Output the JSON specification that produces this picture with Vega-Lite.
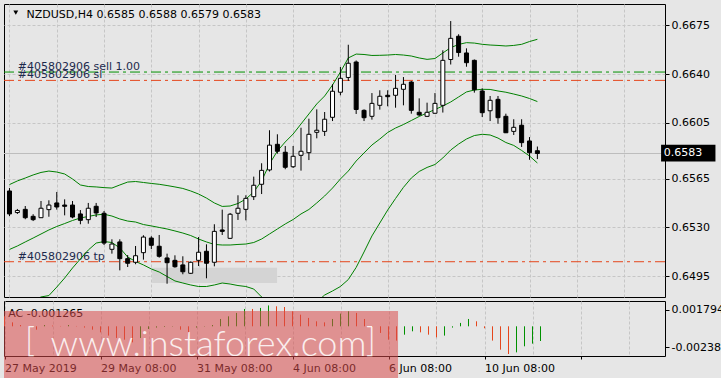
{
  "$schema": "https://vega.github.io/schema/vega-lite/v6.json",
  "background": "#e6e6e6",
  "padding": {"left": 3, "top": 3, "right": 0, "bottom": 0},
  "spacing": 2,
  "config": {
    "view": {"stroke": "#000000", "strokeWidth": 1},
    "font": "DejaVu Sans",
    "axis": {"labelFont": "DejaVu Sans", "labelFontSize": 11, "labelColor": "#000000", "gridColor": "#c6c6c6", "gridDash": [3, 2], "gridWidth": 1, "tickColor": "#000000", "domain": false, "title": null}
  },
  "datasets": {
    "bars": [
      {"k":0,"o":0.65561,"h":0.65582,"l":0.65381,"c":0.65396,"up":0.65607,"mid":0.65141,"lo":0.64674},
      {"k":1,"o":0.65406,"h":0.65432,"l":0.65396,"c":0.65421,"up":0.65633,"mid":0.65166,"lo":0.64699},
      {"k":2,"o":0.65429,"h":0.65453,"l":0.65358,"c":0.65369,"up":0.65654,"mid":0.65195,"lo":0.64735},
      {"k":3,"o":0.65379,"h":0.65394,"l":0.65345,"c":0.65355,"up":0.65676,"mid":0.65223,"lo":0.64771},
      {"k":4,"o":0.65369,"h":0.65489,"l":0.65367,"c":0.65437,"up":0.65694,"mid":0.65252,"lo":0.648},
      {"k":5,"o":0.65427,"h":0.65494,"l":0.65376,"c":0.6546,"up":0.65704,"mid":0.65281,"lo":0.6481},
      {"k":6,"o":0.65475,"h":0.65554,"l":0.65427,"c":0.65446,"up":0.65697,"mid":0.65306,"lo":0.64871},
      {"k":7,"o":0.6546,"h":0.65501,"l":0.65386,"c":0.65451,"up":0.65683,"mid":0.65327,"lo":0.64936},
      {"k":8,"o":0.6546,"h":0.65489,"l":0.65365,"c":0.65374,"up":0.65647,"mid":0.65349,"lo":0.65008},
      {"k":9,"o":0.65396,"h":0.65424,"l":0.65322,"c":0.6535,"up":0.65604,"mid":0.65367,"lo":0.65073},
      {"k":10,"o":0.65355,"h":0.65475,"l":0.65326,"c":0.65437,"up":0.65593,"mid":0.65378,"lo":0.65137},
      {"k":11,"o":0.65451,"h":0.65475,"l":0.65374,"c":0.65403,"up":0.6559,"mid":0.65389,"lo":0.65187},
      {"k":12,"o":0.65401,"h":0.65417,"l":0.65173,"c":0.65187,"up":0.65585,"mid":0.65394,"lo":0.65198},
      {"k":13,"o":0.65142,"h":0.65214,"l":0.65111,"c":0.6518,"up":0.65582,"mid":0.65381,"lo":0.65191},
      {"k":14,"o":0.65195,"h":0.65214,"l":0.64991,"c":0.65075,"up":0.65604,"mid":0.6536,"lo":0.65152},
      {"k":15,"o":0.65075,"h":0.65101,"l":0.65015,"c":0.65042,"up":0.65625,"mid":0.65345,"lo":0.65087},
      {"k":16,"o":0.65049,"h":0.65166,"l":0.65035,"c":0.65096,"up":0.65629,"mid":0.65338,"lo":0.65055},
      {"k":17,"o":0.65118,"h":0.65243,"l":0.65068,"c":0.6523,"up":0.65622,"mid":0.6532,"lo":0.6503},
      {"k":18,"o":0.65223,"h":0.65236,"l":0.65144,"c":0.65171,"up":0.65615,"mid":0.6531,"lo":0.65001},
      {"k":19,"o":0.65164,"h":0.65245,"l":0.65082,"c":0.65092,"up":0.65609,"mid":0.65299,"lo":0.64979},
      {"k":20,"o":0.6508,"h":0.65111,"l":0.64895,"c":0.65046,"up":0.656,"mid":0.65288,"lo":0.64947},
      {"k":21,"o":0.65063,"h":0.65099,"l":0.6501,"c":0.65017,"up":0.6559,"mid":0.65274,"lo":0.64915},
      {"k":22,"o":0.6503,"h":0.65092,"l":0.64963,"c":0.64981,"up":0.65579,"mid":0.65259,"lo":0.649},
      {"k":23,"o":0.6497,"h":0.65055,"l":0.64965,"c":0.65049,"up":0.65561,"mid":0.65241,"lo":0.64886},
      {"k":24,"o":0.65063,"h":0.6523,"l":0.65022,"c":0.65121,"up":0.65539,"mid":0.65216,"lo":0.64875},
      {"k":25,"o":0.65128,"h":0.65178,"l":0.64934,"c":0.65042,"up":0.6551,"mid":0.65195,"lo":0.64875},
      {"k":26,"o":0.65049,"h":0.65322,"l":0.6502,"c":0.65271,"up":0.65475,"mid":0.65177,"lo":0.64886},
      {"k":27,"o":0.65281,"h":0.65427,"l":0.65245,"c":0.65271,"up":0.6545,"mid":0.65173,"lo":0.649},
      {"k":28,"o":0.65221,"h":0.65403,"l":0.65216,"c":0.65394,"up":0.65453,"mid":0.65173,"lo":0.64893},
      {"k":29,"o":0.65401,"h":0.6553,"l":0.65353,"c":0.65437,"up":0.65471,"mid":0.65177,"lo":0.64882},
      {"k":30,"o":0.65429,"h":0.6553,"l":0.6535,"c":0.65508,"up":0.65503,"mid":0.6518,"lo":0.64875},
      {"k":31,"o":0.6552,"h":0.65664,"l":0.65496,"c":0.65602,"up":0.65554,"mid":0.65191,"lo":0.64857},
      {"k":32,"o":0.65609,"h":0.6576,"l":0.65539,"c":0.65709,"up":0.65633,"mid":0.65216,"lo":0.648},
      {"k":33,"o":0.65712,"h":0.65997,"l":0.65701,"c":0.6589,"up":0.65755,"mid":0.65252,"lo":0.6475},
      {"k":34,"o":0.65896,"h":0.65968,"l":0.65829,"c":0.65846,"up":0.65848,"mid":0.65288,"lo":0.64728},
      {"k":35,"o":0.65839,"h":0.65884,"l":0.65717,"c":0.65731,"up":0.65913,"mid":0.65324,"lo":0.64735},
      {"k":36,"o":0.65735,"h":0.65884,"l":0.65726,"c":0.6581,"up":0.6597,"mid":0.65356,"lo":0.64742},
      {"k":37,"o":0.65817,"h":0.66015,"l":0.65707,"c":0.65846,"up":0.66042,"mid":0.65396,"lo":0.6475},
      {"k":38,"o":0.65836,"h":0.6608,"l":0.65783,"c":0.65968,"up":0.66114,"mid":0.65428,"lo":0.64742},
      {"k":39,"o":0.65982,"h":0.66147,"l":0.65939,"c":0.65997,"up":0.66186,"mid":0.65475,"lo":0.64764},
      {"k":40,"o":0.65989,"h":0.66128,"l":0.65956,"c":0.66076,"up":0.66243,"mid":0.65525,"lo":0.64814},
      {"k":41,"o":0.6609,"h":0.66327,"l":0.66063,"c":0.66277,"up":0.66322,"mid":0.65582,"lo":0.64843},
      {"k":42,"o":0.6627,"h":0.66451,"l":0.66248,"c":0.6637,"up":0.66415,"mid":0.65647,"lo":0.64875},
      {"k":43,"o":0.66376,"h":0.66611,"l":0.66351,"c":0.66478,"up":0.66516,"mid":0.65704,"lo":0.64925},
      {"k":44,"o":0.66487,"h":0.66498,"l":0.66114,"c":0.66146,"up":0.66544,"mid":0.65776,"lo":0.65012},
      {"k":45,"o":0.6614,"h":0.66147,"l":0.66063,"c":0.66087,"up":0.66541,"mid":0.65834,"lo":0.65123},
      {"k":46,"o":0.66097,"h":0.66264,"l":0.66073,"c":0.6619,"up":0.66534,"mid":0.65891,"lo":0.65238},
      {"k":47,"o":0.66176,"h":0.66284,"l":0.66145,"c":0.66241,"up":0.66535,"mid":0.65934,"lo":0.65331},
      {"k":48,"o":0.66248,"h":0.66284,"l":0.66169,"c":0.66238,"up":0.66537,"mid":0.65981,"lo":0.65424},
      {"k":49,"o":0.66248,"h":0.66394,"l":0.66159,"c":0.66298,"up":0.66541,"mid":0.66013,"lo":0.65507},
      {"k":50,"o":0.66291,"h":0.66379,"l":0.66176,"c":0.66327,"up":0.66537,"mid":0.66038,"lo":0.65587},
      {"k":51,"o":0.66343,"h":0.66351,"l":0.66116,"c":0.6614,"up":0.6653,"mid":0.66067,"lo":0.65654},
      {"k":52,"o":0.66126,"h":0.66226,"l":0.66099,"c":0.66107,"up":0.66516,"mid":0.66096,"lo":0.65701},
      {"k":53,"o":0.66097,"h":0.66195,"l":0.66092,"c":0.66126,"up":0.66506,"mid":0.66121,"lo":0.6573},
      {"k":54,"o":0.66119,"h":0.66264,"l":0.66117,"c":0.6619,"up":0.66512,"mid":0.66146,"lo":0.65751},
      {"k":55,"o":0.66176,"h":0.66571,"l":0.66124,"c":0.66499,"up":0.66552,"mid":0.66171,"lo":0.65798},
      {"k":56,"o":0.66505,"h":0.66781,"l":0.66469,"c":0.66657,"up":0.6659,"mid":0.662,"lo":0.65855},
      {"k":57,"o":0.66672,"h":0.66686,"l":0.66525,"c":0.66555,"up":0.66613,"mid":0.66236,"lo":0.65898},
      {"k":58,"o":0.66552,"h":0.66585,"l":0.66453,"c":0.66482,"up":0.66626,"mid":0.66272,"lo":0.65934},
      {"k":59,"o":0.66499,"h":0.66505,"l":0.66267,"c":0.66288,"up":0.66623,"mid":0.66286,"lo":0.65959},
      {"k":60,"o":0.66279,"h":0.66298,"l":0.66092,"c":0.66123,"up":0.66614,"mid":0.66291,"lo":0.65968},
      {"k":61,"o":0.66137,"h":0.66243,"l":0.66063,"c":0.66212,"up":0.66609,"mid":0.6629,"lo":0.65963},
      {"k":62,"o":0.66219,"h":0.66243,"l":0.66044,"c":0.66087,"up":0.66606,"mid":0.66279,"lo":0.65941},
      {"k":63,"o":0.66097,"h":0.66116,"l":0.65977,"c":0.65979,"up":0.66602,"mid":0.6627,"lo":0.65909},
      {"k":64,"o":0.65989,"h":0.66076,"l":0.65963,"c":0.66018,"up":0.66606,"mid":0.66257,"lo":0.65888},
      {"k":65,"o":0.66033,"h":0.66076,"l":0.65877,"c":0.65908,"up":0.66614,"mid":0.66243,"lo":0.65852},
      {"k":66,"o":0.6592,"h":0.65948,"l":0.65785,"c":0.65836,"up":0.66634,"mid":0.66225,"lo":0.65812},
      {"k":67,"o":0.6585,"h":0.6588,"l":0.6579,"c":0.6583,"up":0.6665,"mid":0.66203,"lo":0.65762}
    ],
    "ac": [
      {"k":0,"v":0.00086,"d":"down"},{"k":1,"v":0.00034,"d":"down"},{"k":2,"v":0.00011,"d":"down"},{"k":3,"v":-0.00003,"d":"down"},
      {"k":4,"v":-0.00029,"d":"down"},{"k":5,"v":0.00011,"d":"up"},{"k":6,"v":0.00006,"d":"down"},{"k":7,"v":0.00003,"d":"down"},
      {"k":8,"v":0.00011,"d":"up"},{"k":9,"v":0.00003,"d":"down"},{"k":10,"v":-0.00011,"d":"down"},{"k":11,"v":-0.00029,"d":"down"},
      {"k":12,"v":-0.00052,"d":"down"},{"k":13,"v":-0.0008,"d":"down"},{"k":14,"v":-0.001,"d":"down"},{"k":15,"v":-0.00115,"d":"down"},
      {"k":16,"v":-0.00138,"d":"down"},{"k":17,"v":-0.001,"d":"up"},{"k":18,"v":-0.00023,"d":"up"},{"k":19,"v":-0.00011,"d":"up"},
      {"k":20,"v":-0.00006,"d":"up"},{"k":21,"v":-0.00003,"d":"up"},{"k":22,"v":-0.00029,"d":"down"},{"k":23,"v":-0.00052,"d":"down"},
      {"k":24,"v":-0.00011,"d":"up"},{"k":25,"v":-0.00003,"d":"up"},{"k":26,"v":0.00011,"d":"up"},{"k":27,"v":0.00063,"d":"up"},
      {"k":28,"v":0.00086,"d":"up"},{"k":29,"v":0.00115,"d":"up"},{"k":30,"v":0.00149,"d":"up"},{"k":31,"v":0.00149,"d":"down"},
      {"k":32,"v":0.00158,"d":"up"},{"k":33,"v":0.001794,"d":"up"},{"k":34,"v":0.00172,"d":"down"},{"k":35,"v":0.00166,"d":"down"},
      {"k":36,"v":0.00129,"d":"down"},{"k":37,"v":0.001,"d":"down"},{"k":38,"v":0.00072,"d":"down"},{"k":39,"v":0.00043,"d":"down"},
      {"k":40,"v":0.00034,"d":"down"},{"k":41,"v":0.00063,"d":"up"},{"k":42,"v":0.00109,"d":"up"},{"k":43,"v":0.00129,"d":"up"},
      {"k":44,"v":0.00115,"d":"down"},{"k":45,"v":0.00063,"d":"down"},{"k":46,"v":-0.00005,"d":"down"},{"k":47,"v":-0.00057,"d":"down"},
      {"k":48,"v":-0.00115,"d":"down"},{"k":49,"v":-0.00123,"d":"down"},{"k":50,"v":-0.00072,"d":"up"},{"k":51,"v":-0.00043,"d":"up"},
      {"k":52,"v":-0.00052,"d":"down"},{"k":53,"v":-0.00072,"d":"down"},{"k":54,"v":-0.00095,"d":"down"},{"k":55,"v":-0.0008,"d":"up"},
      {"k":56,"v":-0.00011,"d":"up"},{"k":57,"v":0.00029,"d":"up"},{"k":58,"v":0.00063,"d":"up"},{"k":59,"v":0.00043,"d":"down"},
      {"k":60,"v":-0.00017,"d":"down"},{"k":61,"v":-0.00123,"d":"down"},{"k":62,"v":-0.00201,"d":"down"},{"k":63,"v":-0.002382,"d":"down"},
      {"k":64,"v":-0.00224,"d":"up"},{"k":65,"v":-0.00172,"d":"up"},{"k":66,"v":-0.00149,"d":"up"},{"k":67,"v":-0.001265,"d":"up"}
    ],
    "orders": [
      {"name":"sell","price":0.66415,"label":"#405802906 sell 1.00"},
      {"name":"sl","price":0.66355,"label":"#405802906 sl"},
      {"name":"tp","price":0.65053,"label":"#405802906 tp"}
    ],
    "zones": [{"k1":18.1,"k2":33.96,"p1":0.6501,"p2":0.649}],
    "one": [{}]
  },
  "vconcat": [
    {
      "width": 661,
      "height": 293,
      "layer": [
        {
          "data": {"name": "zones"},
          "mark": {"type": "rect", "fill": "#d4d4d4", "clip": true},
          "encoding": {
            "x": {"field": "k1", "type": "quantitative", "scale": {"domain": [-0.0625, 82.5625], "nice": false, "zero": false},
                  "axis": {"values": [0,6,12,18,24,30,36,42,48,54,60,66,72,78], "labels": false, "ticks": false, "grid": true}},
            "x2": {"field": "k2"},
            "y": {"field": "p1", "type": "quantitative", "scale": {"domain": [0.647997, 0.669035], "nice": false, "zero": false},
                  "axis": {"orient": "right", "values": [0.6495, 0.653, 0.6565, 0.6605, 0.664, 0.6675], "format": ".4f", "tickSize": 4, "labelPadding": 2, "grid": true}},
            "y2": {"field": "p2"}
          }
        },
        {
          "data": {"name": "one"},
          "mark": {"type": "rule", "color": "#bdbdbd", "strokeWidth": 1},
          "encoding": {"y": {"datum": 0.6583, "type": "quantitative"}}
        },
        {
          "data": {"name": "orders"},
          "mark": {"type": "rule", "strokeWidth": 1, "strokeDash": [10, 4, 3, 4]},
          "encoding": {
            "y": {"field": "price", "type": "quantitative"},
            "color": {"field": "name", "type": "nominal", "scale": {"domain": ["sell", "sl", "tp"], "range": ["#009100", "#e5461c", "#e5461c"]}, "legend": null}
          }
        },
        {
          "data": {"name": "orders"},
          "mark": {"type": "text", "align": "left", "baseline": "alphabetic", "dy": -2, "fontSize": 11, "color": "#1d2a4d"},
          "encoding": {
            "x": {"datum": 1.05, "type": "quantitative"},
            "y": {"field": "price", "type": "quantitative"},
            "text": {"field": "label"}
          }
        },
        {
          "data": {"name": "bars"},
          "mark": {"type": "line", "color": "#008000", "strokeWidth": 1, "clip": true},
          "encoding": {"x": {"field": "k", "type": "quantitative"}, "y": {"field": "up", "type": "quantitative"}}
        },
        {
          "data": {"name": "bars"},
          "mark": {"type": "line", "color": "#008000", "strokeWidth": 1, "clip": true},
          "encoding": {"x": {"field": "k", "type": "quantitative"}, "y": {"field": "mid", "type": "quantitative"}}
        },
        {
          "data": {"name": "bars"},
          "mark": {"type": "line", "color": "#008000", "strokeWidth": 1, "clip": true},
          "encoding": {"x": {"field": "k", "type": "quantitative"}, "y": {"field": "lo", "type": "quantitative"}}
        },
        {
          "data": {"name": "bars"},
          "mark": {"type": "rule", "color": "#000000", "strokeWidth": 1, "clip": true},
          "encoding": {"x": {"field": "k", "type": "quantitative"}, "y": {"field": "l", "type": "quantitative"}, "y2": {"field": "h"}}
        },
        {
          "data": {"name": "bars"},
          "mark": {"type": "bar", "width": 4, "stroke": "#000000", "strokeWidth": 1, "clip": true},
          "encoding": {
            "x": {"field": "k", "type": "quantitative"},
            "y": {"field": "o", "type": "quantitative"},
            "y2": {"field": "c"},
            "fill": {"condition": {"test": "datum.c >= datum.o", "value": "#ffffff"}, "value": "#000000"}
          }
        },
        {
          "data": {"name": "one"},
          "mark": {"type": "rect", "fill": "#000000", "clip": false},
          "encoding": {
            "x": {"datum": 82.7, "type": "quantitative"}, "x2": {"datum": 89.6},
            "y": {"datum": 0.65892, "type": "quantitative"}, "y2": {"datum": 0.65772}
          }
        },
        {
          "data": {"name": "one"},
          "mark": {"type": "text", "text": "0.6583", "color": "#ffffff", "align": "left", "baseline": "middle", "fontSize": 11},
          "encoding": {"x": {"datum": 83.05, "type": "quantitative"}, "y": {"datum": 0.65832, "type": "quantitative"}}
        },
        {
          "data": {"name": "one"},
          "mark": {"type": "point", "shape": "triangle-down", "filled": true, "color": "#000000", "size": 24, "opacity": 1},
          "encoding": {"x": {"datum": 0.8, "type": "quantitative"}, "y": {"datum": 0.66842, "type": "quantitative"}}
        },
        {
          "data": {"name": "one"},
          "mark": {"type": "text", "text": "NZDUSD,H4  0.6585 0.6588 0.6579 0.6583", "color": "#000000", "align": "left", "baseline": "alphabetic", "fontSize": 11},
          "encoding": {"x": {"datum": 2.15, "type": "quantitative"}, "y": {"datum": 0.66803, "type": "quantitative"}}
        }
      ]
    },
    {
      "width": 661,
      "height": 55,
      "layer": [
        {
          "data": {"name": "ac"},
          "mark": {"type": "rule", "strokeWidth": 1},
          "encoding": {
            "x": {"field": "k", "type": "quantitative", "scale": {"domain": [-0.0625, 82.5625], "nice": false, "zero": false},
                  "axis": {"values": [0,6,12,18,24,30,36,42,48,54,60,66,72,78], "grid": true, "tickSize": 3,
                           "tickOpacity": {"condition": {"test": "datum.value % 12 === 0", "value": 1}, "value": 0},
                           "labelAlign": "left", "labelBaseline": "top", "labelPadding": 3, "labelOverlap": false, "labelFlush": false, "labelBound": false,
                           "labelExpr": "datum.value === 0 ? '27 May 2019' : datum.value === 12 ? '29 May 08:00' : datum.value === 24 ? '31 May 08:00' : datum.value === 36 ? '4 Jun 08:00' : datum.value === 48 ? '6 Jun 08:00' : datum.value === 60 ? '10 Jun 08:00' : ''"}},
            "y": {"field": "v", "type": "quantitative", "scale": {"domain": [-0.002554, 0.002176], "nice": false, "zero": false},
                  "axis": {"orient": "right", "values": [0.001427, 0, -0.00178], "tickSize": 4, "labelPadding": 2, "grid": true,
                           "gridOpacity": {"condition": {"test": "datum.value === 0", "value": 1}, "value": 0},
                           "labelExpr": "datum.value > 0.001 ? '0.001794' : datum.value < -0.001 ? '-0.002382' : '0.00'"}},
            "y2": {"datum": 0},
            "color": {"field": "d", "type": "nominal", "scale": {"domain": ["up", "down"], "range": ["#008000", "#ff0000"]}, "legend": null}
          }
        },
        {
          "data": {"name": "one"},
          "mark": {"type": "text", "text": "AC -0.001265", "color": "#000000", "align": "left", "baseline": "alphabetic", "fontSize": 11},
          "encoding": {"x": {"datum": 0.47, "type": "quantitative"}, "y": {"datum": 0.0008, "type": "quantitative"}}
        },
        {
          "data": {"name": "one"},
          "mark": {"type": "rect", "fill": "#d94b4b", "opacity": 0.55, "clip": false},
          "encoding": {
            "x": {"datum": -0.0625, "type": "quantitative"}, "x2": {"datum": 49.19},
            "y": {"datum": 0.001316, "type": "quantitative"}, "y2": {"datum": -0.004532}
          }
        },
        {
          "data": {"name": "one"},
          "mark": {"type": "text", "text": "www.instaforex.com", "color": "#ffffff", "opacity": 0.85, "align": "center", "baseline": "alphabetic", "fontSize": 36, "font": "Lato", "fontWeight": 300},
          "encoding": {"x": {"datum": 25.5, "type": "quantitative"}, "y": {"datum": -0.00258, "type": "quantitative"}}
        },
        {
          "data": {"name": "one"},
          "mark": {"type": "text", "text": "[", "color": "#ffffff", "opacity": 0.85, "align": "center", "baseline": "alphabetic", "fontSize": 34, "font": "Lato", "fontWeight": 300},
          "encoding": {"x": {"datum": 3.19, "type": "quantitative"}, "y": {"datum": -0.00225, "type": "quantitative"}}
        },
        {
          "data": {"name": "one"},
          "mark": {"type": "text", "text": "]", "color": "#ffffff", "opacity": 0.85, "align": "center", "baseline": "alphabetic", "fontSize": 34, "font": "Lato", "fontWeight": 300},
          "encoding": {"x": {"datum": 45.8, "type": "quantitative"}, "y": {"datum": -0.00225, "type": "quantitative"}}
        }
      ]
    }
  ]
}
